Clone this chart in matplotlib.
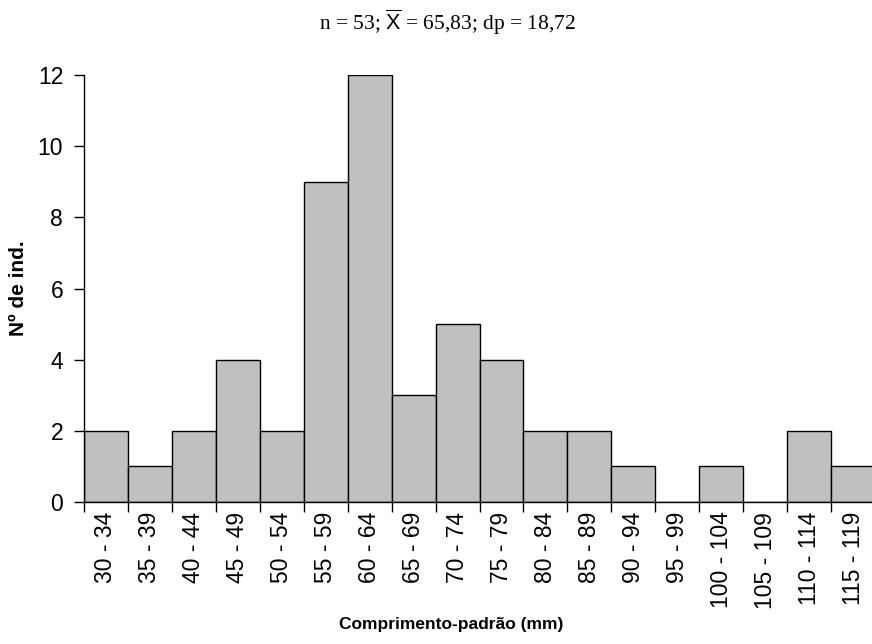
import numpy as np
import matplotlib.pyplot as plt
from matplotlib.ticker import FixedLocator, NullFormatter

# class intervals (mm) and counts
classes = ["30 - 34", "35 - 39", "40 - 44", "45 - 49", "50 - 54", "55 - 59",
           "60 - 64", "65 - 69", "70 - 74", "75 - 79", "80 - 84", "85 - 89",
           "90 - 94", "95 - 99", "100 - 104", "105 - 109", "110 - 114", "115 - 119"]
counts = [2, 1, 2, 4, 2, 9, 12, 3, 5, 4, 2, 2, 1, 0, 1, 0, 2, 1]
y_ticks = [0, 2, 4, 6, 8, 10, 12]

plt.rcParams['font.family'] = ['Liberation Sans', 'DejaVu Sans']
plt.rcParams['mathtext.fontset'] = 'custom'
plt.rcParams['mathtext.rm'] = 'Liberation Serif'
plt.rcParams['mathtext.sf'] = 'Liberation Sans'

fig = plt.figure(figsize=(8.72, 6.44), dpi=100)
ax = fig.add_axes([84 / 872, 1 - 502 / 644, 791 / 872, 427 / 644])

x = np.arange(len(counts))
ax.bar(x, counts, width=1, align='edge', color='#c0c0c0',
       edgecolor='black', linewidth=1)

ax.set_xlim(0, len(counts))
ax.set_ylim(0, 12)
ax.set_yticks(y_ticks)

# ticks at class boundaries, labels at class centres
ax.xaxis.set_major_locator(FixedLocator(np.arange(len(counts) + 1)))
ax.xaxis.set_major_formatter(NullFormatter())
ax.xaxis.set_minor_locator(FixedLocator(x + 0.5))
ax.set_xticklabels(classes, minor=True, rotation=90, fontsize=16.5)
ax.tick_params(axis='x', which='major', length=7, width=1)
ax.tick_params(axis='x', which='minor', length=0, pad=7)
ax.tick_params(axis='y', length=7, width=1, labelsize=16.5, pad=8)

for s in ['top', 'right']:
    ax.spines[s].set_visible(False)
ax.spines['left'].set_linewidth(1)
ax.spines['bottom'].set_linewidth(1)

ax.set_xlabel("Comprimento-padrão (mm)", fontsize=12.5, fontweight='bold')
ax.xaxis.set_label_coords((451 - 84) / 791, -(617 - 502) / 427)
ax.set_ylabel("Nº de ind.", fontsize=15, fontweight='bold')
ax.yaxis.set_label_coords(-(84 - 28) / 791, (502 - 288) / 427)

fig.text(447 / 872, 1 - 22 / 644,
         r"n = 53; $\overline{\mathsf{X}}$ = 65,83; dp = 18,72",
         family='Liberation Serif', fontsize=15.5, ha='center', va='center')

fig.savefig("out.png", dpi=100)
